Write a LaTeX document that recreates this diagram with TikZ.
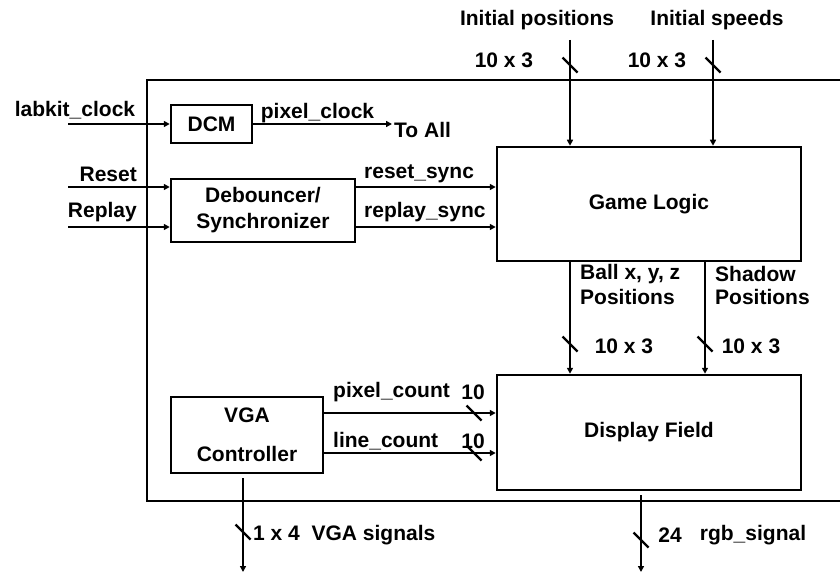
\documentclass[tikz,border=0pt]{standalone}
\usepackage{fontspec}
\setmainfont{Liberation Sans}
\usetikzlibrary{arrows.meta,calc}
\begin{document}
\begin{tikzpicture}[x=1pt,y=-1pt,
  every node/.style={font=\fontsize{21}{26}\selectfont\bfseries, inner sep=0pt},
  blk/.style={draw, line width=2.5pt, rectangle, align=center},
  arr/.style={line width=2.3pt, -{Triangle[length=6pt,width=6pt]}},
  slash/.style={line width=2.3pt}]
\useasboundingbox (0,0) rectangle (840,572);
\clip (0,0) rectangle (840,572);
% outer box
\draw[line width=2.5pt] (147,80) rectangle (870,501);
% blocks
\node[blk, minimum width=81pt, minimum height=38pt] (dcm) at (211.5,124) {DCM};
\node[blk, minimum width=184pt, minimum height=63pt] (deb) at (263,210.5) {Debouncer/\\Synchronizer};
\node[blk, minimum width=304pt, minimum height=114pt] (game) at (649,204) {Game Logic};
\node[blk, minimum width=304pt, minimum height=115pt] (disp) at (649,432.5) {Display Field};
\node[blk, minimum width=152pt, minimum height=76pt, font=\fontsize{21}{39}\selectfont\bfseries] (vga) at (247,435) {VGA\\Controller};
% coordinates
\coordinate (lk) at (68,124);
\coordinate (toall) at (392,124);
\coordinate (rst) at (68,187);
\coordinate (rpl) at (68,227);
\coordinate (ip) at (570,40);
\coordinate (is) at (713,40);
\coordinate (sh) at (705,0);
\coordinate (pc) at (0,413);
\coordinate (lc) at (0,453);
\coordinate (vgaout) at (243,572);
\coordinate (rgbout) at (641,572);
% connectors
\draw[arr] (lk) -- (dcm.west);
\draw[arr] (dcm.east) -- (toall);
\draw[arr] (rst) -- (rst -| deb.west);
\draw[arr] (rpl) -- (rpl -| deb.west);
\draw[arr] (deb.east |- rst) -- (game.west |- rst);
\draw[arr] (deb.east |- rpl) -- (game.west |- rpl);
\draw[arr] (ip) -- (ip |- game.north);
\draw[arr] (is) -- (is |- game.north);
\draw[arr] (ip |- game.south) -- (ip |- disp.north);
\draw[arr] (sh |- game.south) -- (sh |- disp.north);
\draw[arr] (vga.east |- pc) -- (disp.west |- pc);
\draw[arr] (vga.east |- lc) -- (disp.west |- lc);
\draw[arr] ($(vgaout |- vga.south)+(0,4)$) -- (vgaout);
\draw[arr] ($(rgbout |- disp.south)+(0,4)$) -- (rgbout);
% slashes
\foreach \p in {(570,65),(713,65),(570,344),(705,344),(474,413),(474,453),(243,532),(641,540)}
  \draw[slash] \p ++(-7.5,-7.5) -- ++(15,15);
% labels
\node (t1) at (75,110) {labkit\_clock};
\node (t2) at (317.5,113) {pixel\_clock};
\node[anchor=west] (t3) at (394,130) {To All};
\node[anchor=east] (t4) at (137,174) {Reset};
\node[anchor=east] (t5) at (137,212) {Replay};
\node[anchor=west] (t6) at (364,174) {reset\_sync};
\node[anchor=west] (t7) at (364,212) {replay\_sync};
\node (t8) at (537,20) {Initial positions};
\node (t9) at (717,20) {Initial speeds};
\node (t10) at (504,60) {10 x 3};
\node (t11) at (657,60) {10 x 3};
\node[anchor=west] (t12) at (580,274) {Ball x, y, z};
\node[anchor=west] (t13) at (580,297) {Positions};
\node[anchor=west] (t14) at (715,274) {Shadow};
\node[anchor=west] (t15) at (715,297) {Positions};
\node (t16) at (624,346) {10 x 3};
\node (t17) at (751,346) {10 x 3};
\node[anchor=west] (t18) at (333,392) {pixel\_count};
\node (t19) at (473,392) {10};
\node[anchor=west] (t20) at (333,441) {line\_count};
\node (t21) at (473,441) {10};
\node[anchor=west] (t22) at (253,535) {1 x 4\ \ VGA signals};
\node (t23) at (670,535) {24};
\node (t24) at (753,535) {rgb\_signal};
\end{tikzpicture}
\end{document}
